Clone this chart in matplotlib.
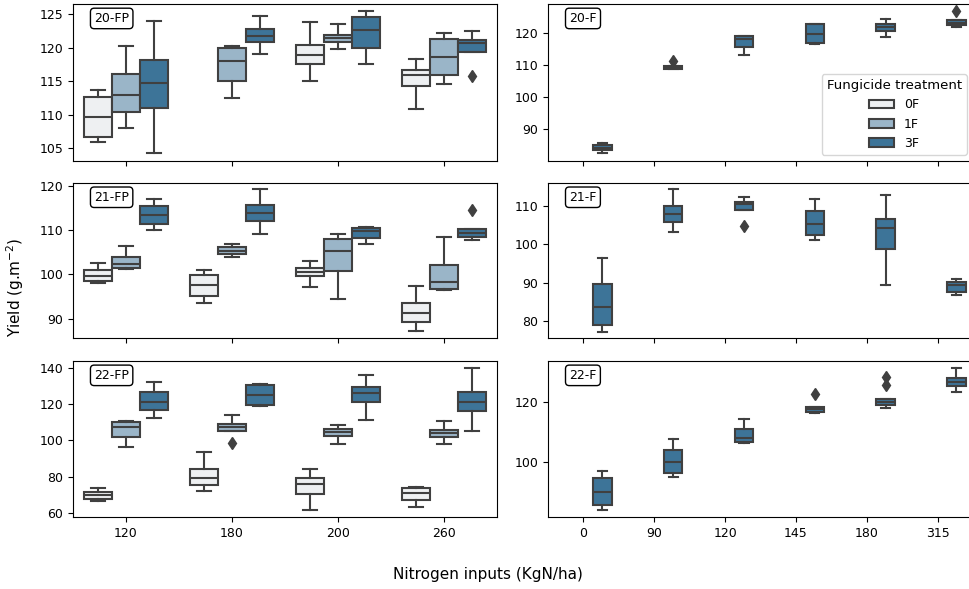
import matplotlib
matplotlib.use("Agg")
import matplotlib.pyplot as plt
from matplotlib.patches import Patch

# categories
n_fp = ['120', '180', '200', '260']
n_f = ['0', '90', '120', '145', '180', '315']
hues = ['0F', '1F', '3F']
colors = {'0F': '#eef0f2', '1F': '#9ab5c8', '3F': '#3d7498'}
edge = '#404040'

# box stats per box: (whislo, q1, median, q3, whishi), None = missing
fp20 = {
    '0F': [(105.9, 106.75, 109.7, 112.6, 113.7), None,
           (115.0, 117.6, 118.9, 120.4, 123.75), (110.8, 114.3, 115.9, 116.7, 118.3)],
    '1F': [(108.0, 110.4, 112.9, 116.07, 120.26), (112.5, 115.0, 118.0, 120.0, 120.2),
           (119.8, 120.8, 121.4, 121.9, 123.45), (114.6, 115.9, 118.67, 121.26, 122.15)],
    '3F': [(104.25, 111.0, 114.8, 118.1, 123.9), (119.1, 120.8, 121.8, 122.75, 124.7),
           (117.5, 119.96, 122.6, 124.6, 125.45), (119.4, 119.36, 120.66, 121.1, 122.45)],
}
fp20_fliers = [('3F', 3, 115.7)]

fp21 = {
    '0F': [(98.0, 98.4, 99.6, 101.0, 102.5), (93.6, 95.0, 97.6, 99.85, 101.05),
           (97.2, 99.7, 100.6, 101.3, 103.1), (87.1, 89.2, 91.2, 93.6, 97.4)],
    '1F': [(101.1, 101.5, 102.3, 104.0, 106.4), (104.0, 104.5, 105.3, 106.2, 106.8),
           (94.4, 100.8, 105.2, 107.9, 109.0), (96.5, 96.7, 98.35, 102.0, 108.3)],
    '3F': [(110.0, 111.4, 113.4, 115.4, 117.1), (109.1, 112.1, 113.8, 115.7, 119.2),
           (106.9, 108.1, 109.7, 110.4, 110.6), (107.7, 108.3, 109.25, 110.2, 110.3)],
}
fp21_fliers = [('3F', 3, 114.4)]

fp22 = {
    '0F': [(66.65, 67.8, 69.6, 71.5, 73.9), (72.2, 75.3, 79.4, 84.4, 93.4),
           (61.3, 70.5, 75.9, 79.4, 84.2), (63.3, 67.2, 71.1, 73.7, 74.4)],
    '1F': [(96.6, 102.1, 107.5, 110.4, 110.6), (105.3, 105.3, 107.5, 109.3, 113.95),
           (98.2, 102.7, 104.9, 106.4, 108.4), (98.1, 102.1, 104.3, 106.0, 111.0)],
    '3F': [(112.5, 116.9, 121.5, 126.9, 132.4), (119.3, 119.5, 125.4, 130.9, 131.1),
           (111.4, 121.5, 126.5, 129.8, 136.5), (105.3, 116.35, 121.5, 126.9, 140.0)],
}
fp22_fliers = [('1F', 1, 98.4)]

f20 = [(82.6, 83.4, 84.3, 85.0, 85.8), (108.75, 108.75, 109.3, 109.7, 109.7),
       (113.2, 115.9, 118.1, 119.2, 119.3), (116.8, 117.0, 119.9, 122.8, 123.1),
       (118.9, 120.8, 121.9, 123.1, 124.5), (122.1, 122.5, 123.3, 124.2, 124.3)]
f20_fliers = [(1, 111.25), (5, 127.1)]

f21 = [(77.2, 78.9, 83.65, 89.8, 96.5), (103.3, 105.8, 107.8, 110.1, 114.35),
       (108.9, 108.9, 110.4, 111.0, 112.3), (101.2, 102.4, 105.4, 108.8, 111.8),
       (89.5, 98.9, 104.35, 106.6, 112.9), (86.8, 87.7, 89.3, 90.3, 91.0)]
f21_fliers = [(2, 104.8)]

f22 = [(83.8, 85.6, 89.9, 94.6, 97.1), (94.9, 96.4, 99.9, 104.0, 107.7),
       (106.5, 106.6, 108.2, 111.0, 114.5), (116.5, 116.65, 117.65, 118.4, 118.5),
       (118.0, 119.3, 120.2, 121.2, 121.3), (123.35, 125.4, 126.8, 128.2, 131.4)]
f22_fliers = [(3, 122.9), (4, 125.8), (4, 128.6)]

box_w = 0.8 / 3
offsets = {'0F': -box_w, '1F': 0.0, '3F': box_w}


def draw_box(ax, s, pos, color, fliers):
    st = dict(whislo=s[0], q1=s[1], med=s[2], q3=s[3], whishi=s[4], fliers=fliers)
    ax.bxp([st], positions=[pos], widths=box_w * 0.98, patch_artist=True,
           boxprops=dict(facecolor=color, edgecolor=edge, linewidth=1.5),
           medianprops=dict(color=edge, linewidth=1.5),
           whiskerprops=dict(color=edge, linewidth=1.5),
           capprops=dict(color=edge, linewidth=1.5),
           flierprops=dict(marker='d', markerfacecolor=edge, markeredgecolor=edge,
                           markersize=6),
           manage_ticks=False)


def fp_panel(ax, data, fliers, label, ylim, yticks):
    for h in hues:
        for j, s in enumerate(data[h]):
            if s is None:
                continue
            fl = [v for (hh, jj, v) in fliers if hh == h and jj == j]
            draw_box(ax, s, j + offsets[h], colors[h], fl)
    ax.set_xlim(-0.5, len(n_fp) - 0.5)
    ax.set_xticks(range(len(n_fp)))
    ax.set_ylim(*ylim)
    ax.set_yticks(yticks)
    panel_label(ax, label)


def f_panel(ax, data, fliers, label, ylim, yticks):
    for j, s in enumerate(data):
        fl = [v for (jj, v) in fliers if jj == j]
        draw_box(ax, s, j + offsets['3F'], colors['3F'], fl)
    ax.set_xlim(-0.5, len(n_f) - 0.5)
    ax.set_xticks(range(len(n_f)))
    ax.set_ylim(*ylim)
    ax.set_yticks(yticks)
    panel_label(ax, label)


def panel_label(ax, label):
    ax.text(0.05, 0.908, label, transform=ax.transAxes, ha='left', va='center',
            fontsize=9, bbox=dict(boxstyle='round,pad=0.3', facecolor='white',
                                  edgecolor='black', linewidth=1))


W, H = 969, 589
fig = plt.figure(figsize=(W / 100, H / 100), dpi=100)
plt.rcParams['font.family'] = ['DejaVu Sans']

rows = [(4, 161), (183, 338), (361, 517)]
axes = []
for top, bot in rows:
    axl = fig.add_axes([73 / W, 1 - bot / H, 424 / W, (bot - top) / H])
    axr = fig.add_axes([548 / W, 1 - bot / H, 425 / W, (bot - top) / H])
    axes.append((axl, axr))

fp_panel(axes[0][0], fp20, fp20_fliers, '20-FP', (103.1, 126.5), [105, 110, 115, 120, 125])
fp_panel(axes[1][0], fp21, fp21_fliers, '21-FP', (85.6, 120.6), [90, 100, 110, 120])
fp_panel(axes[2][0], fp22, fp22_fliers, '22-FP', (57.6, 144.0), [60, 80, 100, 120, 140])
f_panel(axes[0][1], f20, f20_fliers, '20-F', (80.1, 129.2), [90, 100, 110, 120])
f_panel(axes[1][1], f21, f21_fliers, '21-F', (75.6, 116.0), [80, 90, 100, 110])
f_panel(axes[2][1], f22, f22_fliers, '22-F', (81.6, 133.9), [100, 120])

for i, (axl, axr) in enumerate(axes):
    for ax in (axl, axr):
        ax.tick_params(labelsize=9)
    if i < 2:
        axl.set_xticklabels([])
        axr.set_xticklabels([])
axes[2][0].set_xticklabels(n_fp)
axes[2][1].set_xticklabels(n_f)

handles = [Patch(facecolor=colors[h], edgecolor=edge, linewidth=1.5, label=h) for h in hues]
axes[0][1].legend(handles=handles, title='Fungicide treatment', loc='lower right',
                  fontsize=9, title_fontsize=9.5)

fig.text(488 / W, 1 - 575 / H, 'Nitrogen inputs (KgN/ha)', ha='center', va='center', fontsize=11)
fig.text(15 / W, 1 - 287 / H, 'Yield (g.m$^{-2}$)', ha='center', va='center',
         rotation=90, fontsize=11)

fig.savefig('out.png', dpi=100)
